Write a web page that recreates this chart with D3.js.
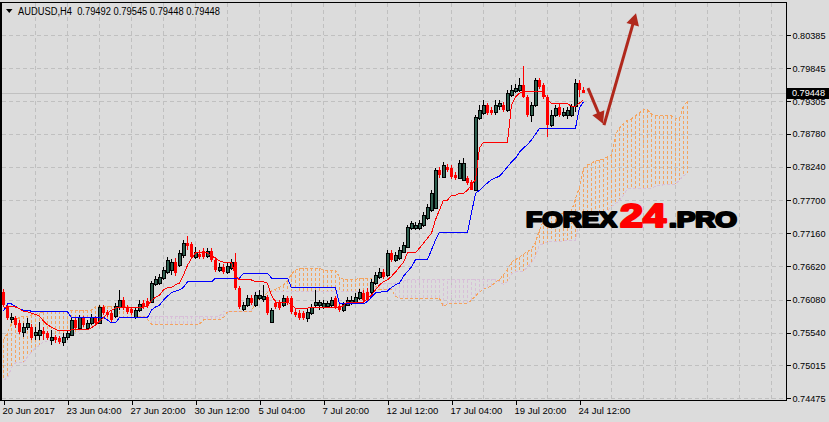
<!DOCTYPE html>
<html><head><meta charset="utf-8">
<script src="https://cdn.jsdelivr.net/npm/d3@7"></script>
<style>
html,body{margin:0;padding:0;background:#dcdcdc;}
svg{display:block;}
text{font-family:"Liberation Sans",Arial,sans-serif;}
</style></head><body>
<svg id="c" width="829" height="422"></svg>
<script>
// ---------- DATA ----------
const symbolLabel = "AUDUSD,H4";
const headerValues = ["0.79492","0.79545","0.79448","0.79448"];
const lastPrice = 0.79448;

const open = [
.7620,.7597,.7576,.7578,.7570,.7555,.7563,.7563,.7550,.7550,
.7557,.7554,.7542,.7547,.7546,.7539,.7547,.7550,.7575,.7562,
.7578,.7562,.7570,.7578,.7570,.7596,.7588,.7586,.7581,.7596,
.7607,.7596,.7593,.7579,.7591,.7602,.7605,.7604,.7633,.7635,
.7643,.7653,.7656,.7669,.7664,.7680,.7700,.7699,.7677,.7682,
.7687,.7679,.7687,.7673,.7656,.7661,.7653,.7659,.7669,.7627,
.7593,.7599,.7610,.7599,.7610,.7609,.7612,.7571,.7602,.7602,
.7599,.7610,.7610,.7588,.7586,.7586,.7578,.7586,.7599,.7599,
.7596,.7597,.7599,.7610,.7597,.7591,.7599,.7602,.7604,.7610,
.7619,.7620,.7620,.7635,.7645,.7653,.7648,.7684,.7673,.7675,
.7685,.7694,.7724,.7724,.7724,.7729,.7741,.7754,.7757,.7819,
.7808,.7824,.7822,.7811,.7806,.7803,.7806,.7799,.7787,.7903,
.7912,.7925,.7917,.7914,.7923,.7925,.7917,.7941,.7947,.7949,
.7957,.7938,.7908,.7925,.7965,.7957,.7938,.7892,.7908,.7922,
.7908,.7908,.7908,.7923,.7961,.79492];
const high = [
.7625,.7601,.7586,.7581,.7575,.7570,.7578,.7568,.7563,.7571,
.7563,.7557,.7559,.7550,.7549,.7554,.7559,.7578,.7578,.7583,
.7581,.7575,.7584,.7581,.7599,.7599,.7591,.7589,.7602,.7624,
.7612,.7599,.7596,.7594,.7607,.7607,.7610,.7638,.7646,.7650,
.7661,.7677,.7674,.7675,.7689,.7705,.7712,.7702,.7694,.7689,
.7692,.7692,.7692,.7677,.7668,.7666,.7669,.7674,.7684,.7630,
.7604,.7615,.7615,.7620,.7624,.7632,.7615,.7594,.7607,.7607,
.7615,.7614,.7614,.7593,.7591,.7589,.7593,.7601,.7624,.7607,
.7607,.7605,.7612,.7614,.7601,.7604,.7612,.7614,.7619,.7625,
.7624,.7627,.7641,.7653,.7659,.7658,.7689,.7689,.7685,.7694,
.7702,.7729,.7736,.7734,.7738,.7751,.7763,.7786,.7822,.7824,
.7832,.7829,.7827,.7816,.7835,.7838,.7809,.7803,.7908,.7925,
.7933,.7928,.7922,.7933,.7933,.7930,.7949,.7957,.7959,.7969,
.7988,.7941,.7930,.7969,.7969,.7961,.7941,.7917,.7925,.7927,
.7920,.7922,.7927,.7967,.7965,.79545];
const low = [
.7596,.7575,.7570,.7562,.7552,.7547,.7559,.7542,.7542,.7542,
.7542,.7542,.7534,.7537,.7536,.7532,.7542,.7549,.7559,.7560,
.7563,.7559,.7567,.7565,.7568,.7583,.7579,.7571,.7578,.7591,
.7591,.7584,.7583,.7576,.7588,.7593,.7594,.7602,.7630,.7632,
.7640,.7650,.7648,.7646,.7661,.7675,.7689,.7674,.7674,.7674,
.7674,.7675,.7669,.7653,.7653,.7650,.7650,.7656,.7624,.7593,
.7589,.7596,.7599,.7596,.7607,.7604,.7583,.7571,.7593,.7591,
.7596,.7599,.7584,.7579,.7575,.7575,.7571,.7583,.7596,.7591,
.7593,.7594,.7596,.7593,.7588,.7588,.7597,.7599,.7601,.7607,
.7605,.7604,.7617,.7632,.7641,.7641,.7645,.7669,.7669,.7673,
.7684,.7692,.7721,.7721,.7721,.7726,.7738,.7751,.7755,.7806,
.7806,.7816,.7804,.7803,.7804,.7803,.7795,.7786,.7786,.7900,
.7908,.7908,.7908,.7908,.7917,.7914,.7914,.7938,.7944,.7946,
.7936,.7905,.7897,.7922,.7951,.7934,.7873,.7889,.7905,.7905,
.7905,.7902,.7905,.7914,.7938,.79448];
const close = [
.7599,.7578,.7579,.7567,.7555,.7563,.7570,.7546,.7555,.7559,
.7552,.7546,.7547,.7542,.7539,.7547,.7554,.7575,.7562,.7579,
.7567,.7570,.7579,.7570,.7596,.7586,.7583,.7575,.7597,.7607,
.7594,.7588,.7586,.7591,.7601,.7596,.7597,.7635,.7641,.7645,
.7656,.7673,.7669,.7651,.7684,.7700,.7695,.7677,.7685,.7677,
.7677,.7687,.7673,.7656,.7661,.7653,.7663,.7669,.7627,.7596,
.7599,.7610,.7602,.7615,.7615,.7614,.7586,.7591,.7596,.7594,
.7610,.7602,.7588,.7583,.7578,.7578,.7588,.7596,.7604,.7604,
.7602,.7602,.7607,.7596,.7591,.7601,.7607,.7607,.7612,.7620,
.7607,.7607,.7637,.7648,.7653,.7645,.7684,.7673,.7680,.7689,
.7697,.7726,.7733,.7729,.7733,.7746,.7758,.7781,.7819,.7811,
.7827,.7819,.7808,.7806,.7830,.7830,.7798,.7787,.7905,.7917,
.7925,.7912,.7912,.7925,.7928,.7917,.7944,.7949,.7952,.7957,
.7938,.7908,.7925,.7965,.7954,.7938,.7892,.7908,.7920,.7908,
.7914,.7917,.7923,.7961,.7949,.79448];

const tenkan = [
.7594,.7597,.7597,.7596,.7593,.7589,.7588,.7586,.7584,.7581,
.7573,.7567,.7563,.7560,.7557,.7557,.7557,.7559,.7559,.7559,
.7559,.7559,.7562,.7567,.7573,.7579,.7586,.7591,.7594,.7596,
.7596,.7596,.7596,.7596,.7596,.7596,.7597,.7607,.7612,.7615,
.7624,.7627,.7628,.7632,.7635,.7648,.7664,.7675,.7684,.7684,
.7684,.7684,.7680,.7675,.7671,.7669,.7669,.7669,.7646,.7640,
.7640,.7640,.7640,.7637,.7637,.7637,.7635,.7615,.7604,.7604,
.7604,.7604,.7599,.7594,.7594,.7594,.7594,.7596,.7596,.7596,
.7596,.7596,.7596,.7596,.7594,.7599,.7604,.7604,.7604,.7604,
.7604,.7610,.7615,.7624,.7632,.7637,.7640,.7646,.7653,.7661,
.7669,.7684,.7684,.7684,.7692,.7700,.7708,.7716,.7738,.7754,
.7770,.7770,.7778,.7778,.7781,.7781,.7786,.7795,.7803,.7855,
.7864,.7864,.7864,.7864,.7864,.7864,.7864,.7925,.7938,.7944,
.7946,.7946,.7946,.7946,.7946,.7946,.7933,.7927,.7927,.7927,
.7927,.7927,.7922,.7922,.7928,.7933];
const kijun = [
.7589,.7601,.7601,.7597,.7593,.7591,.7591,.7589,.7588,.7588,
.7588,.7588,.7588,.7588,.7588,.7588,.7588,.7579,.7579,.7579,
.7579,.7579,.7579,.7579,.7579,.7579,.7575,.7570,.7570,.7579,
.7579,.7579,.7579,.7579,.7579,.7579,.7579,.7591,.7596,.7599,
.7607,.7614,.7619,.7622,.7624,.7628,.7637,.7637,.7637,.7637,
.7637,.7637,.7637,.7643,.7643,.7643,.7643,.7643,.7643,.7643,
.7651,.7651,.7651,.7651,.7651,.7651,.7651,.7643,.7643,.7643,
.7643,.7643,.7627,.7627,.7627,.7627,.7627,.7627,.7627,.7627,
.7627,.7627,.7627,.7627,.7601,.7601,.7601,.7601,.7601,.7601,
.7601,.7605,.7612,.7619,.7619,.7622,.7622,.7628,.7632,.7635,
.7646,.7654,.7661,.7673,.7673,.7673,.7673,.7689,.7705,.7718,
.7718,.7718,.7718,.7718,.7718,.7718,.7718,.7749,.7781,.7786,
.7792,.7798,.7803,.7806,.7809,.7816,.7824,.7832,.7838,.7848,
.7855,.7860,.7868,.7877,.7887,.7887,.7887,.7887,.7887,.7887,
.7887,.7887,.7887,.7887,.7920,.7930];
const senkouA = [
.7542,.7554,.7570,.7575,.7579,.7581,.7581,.7583,.7584,.7586,
.7588,.7589,.7589,.7589,.7589,.7589,.7589,.7591,.7591,.7591,
.7591,.7591,.7591,.7597,.7597,.7597,.7597,.7597,.7597,.7597,
.7597,.7597,.7593,.7581,.7581,.7581,.7576,.7568,.7568,.7568,
.7568,.7568,.7568,.7568,.7568,.7568,.7568,.7568,.7568,.7568,
.7575,.7575,.7575,.7575,.7575,.7579,.7588,.7588,.7588,.7588,
.7588,.7588,.7588,.7604,.7609,.7614,.7619,.7622,.7625,.7628,
.7632,.7638,.7650,.7656,.7659,.7659,.7659,.7659,.7659,.7659,
.7656,.7656,.7656,.7656,.7645,.7641,.7641,.7641,.7641,.7643,
.7643,.7643,.7643,.7630,.7624,.7624,.7624,.7624,.7614,.7610,
.7610,.7610,.7610,.7610,.7610,.7610,.7610,.7610,.7610,.7610,
.7597,.7601,.7602,.7602,.7602,.7602,.7602,.7607,.7614,.7620,
.7625,.7628,.7630,.7637,.7641,.7648,.7658,.7669,.7673,.7677,
.7682,.7686,.7690,.7702,.7721,.7736,.7744,.7744,.7747,.7747,
.7749,.7749,.7752,.7772,.7791,.7821,.7827,.7830,.7834,.7835,
.7837,.7840,.7843,.7877,.7887,.7895,.7900,.7902,.7907,.7912,
.7917,.7917,.7910,.7907,.7907,.7907,.7907,.7907,.7903,.7903,
.7923,.7931];
const senkouB = [
.7477,.7481,.7497,.7505,.7505,.7505,.7515,.7523,.7529,.7534,
.7539,.7541,.7542,.7544,.7546,.7547,.7552,.7554,.7555,.7557,
.7559,.7562,.7565,.7568,.7571,.7575,.7576,.7578,.7578,.7579,
.7579,.7579,.7579,.7581,.7581,.7581,.7581,.7581,.7581,.7581,
.7581,.7581,.7581,.7581,.7581,.7581,.7581,.7581,.7581,.7581,
.7581,.7581,.7581,.7581,.7581,.7589,.7589,.7589,.7589,.7589,
.7589,.7589,.7589,.7622,.7622,.7622,.7622,.7622,.7622,.7622,
.7622,.7622,.7622,.7622,.7622,.7622,.7622,.7622,.7622,.7622,
.7622,.7622,.7622,.7622,.7622,.7622,.7622,.7622,.7622,.7622,
.7622,.7622,.7622,.7627,.7630,.7635,.7635,.7635,.7635,.7638,
.7638,.7640,.7641,.7641,.7641,.7641,.7641,.7641,.7641,.7641,
.7641,.7641,.7641,.7641,.7641,.7641,.7641,.7641,.7641,.7641,
.7641,.7641,.7641,.7641,.7637,.7633,.7637,.7650,.7653,.7653,
.7655,.7661,.7668,.7679,.7697,.7699,.7702,.7702,.7702,.7702,
.7703,.7705,.7705,.7705,.7739,.7747,.7752,.7752,.7752,.7752,
.7752,.7752,.7760,.7764,.7770,.7778,.7788,.7788,.7788,.7788,
.7788,.7788,.7788,.7793,.7793,.7795,.7796,.7796,.7796,.7803,
.7809,.7814];

const priceTicks = [0.80385,0.79845,0.79305,0.78780,0.78240,0.77700,0.77160,0.76620,0.76080,0.75540,0.75015,0.74475];
const timeLabels = ["20 Jun 2017","23 Jun 04:00","27 Jun 20:00","30 Jun 12:00","5 Jul 04:00","7 Jul 20:00","12 Jul 12:00","17 Jul 04:00","19 Jul 20:00","24 Jul 12:00"];
const timeLabelBars = [0,16,32,48,64,80,96,112,128,144];
const gridBars = [8,16,24,32,40,48,56,64,72,80,88,96,104,112,120,128,136,144,152,160,168,176,184,192];
// forecast arrows (bar index, price)
const arrows = [
  {from:[146.25,0.7952], to:[150.0,0.7894]},
  {from:[150.25,0.7892], to:[158.25,0.8074]}
];

// ---------- CHART ----------
const svg = d3.select("#c");
const BG = "#dcdcdc";
svg.append("rect").attr("width",829).attr("height",422).attr("fill",BG);

const frame = {left:1, top:2.5, right:786.5, bottom:400.5};
const x = d3.scaleLinear().domain([0,145]).range([3,583]);
const y = d3.scaleLinear().domain([0.74475,0.80385]).range([398.3,35]);
const px = i => Math.round(x(i)) + 0.5;

const g = svg.append("g");

// grid
g.append("g").selectAll("line").data(priceTicks).join("line")
  .attr("x1",frame.left+1).attr("x2",frame.right)
  .attr("y1",d=>Math.round(y(d))+0.5).attr("y2",d=>Math.round(y(d))+0.5)
  .attr("stroke","#c0c0c0").attr("stroke-dasharray","4,3").attr("shape-rendering","crispEdges");
g.append("g").selectAll("line").data(gridBars).join("line")
  .attr("x1",d=>px(d)).attr("x2",d=>px(d))
  .attr("y1",frame.top).attr("y2",frame.bottom)
  .attr("stroke","#c0c0c0").attr("stroke-dasharray","4,3").attr("shape-rendering","crispEdges");

// last price line
g.append("line").attr("x1",frame.left).attr("x2",frame.right)
  .attr("y1",Math.round(y(lastPrice))+0.5).attr("y2",Math.round(y(lastPrice))+0.5)
  .attr("stroke","#c0c0c0").attr("shape-rendering","crispEdges");

// cloud hatch
const cloud = senkouA.map((a,i)=>({i,a,b:senkouB[i]}));
g.append("g").selectAll("line").data(cloud).join("line")
  .attr("x1",d=>px(d.i)).attr("x2",d=>px(d.i))
  .attr("y1",d=>Math.round(y(d.a))).attr("y2",d=>Math.round(y(d.b)))
  .attr("stroke",d=>d.a>=d.b?"#f4a460":"#d8bfd8")
  .attr("stroke-dasharray","3,2");

// span lines
const line = d3.line().x((d,i)=>px(i)).y(d=>y(d));
g.append("path").attr("d",line(senkouB)).attr("fill","none").attr("stroke","#d8bfd8")
  .attr("stroke-dasharray","3,2").attr("shape-rendering","crispEdges");
g.append("path").attr("d",line(senkouA)).attr("fill","none").attr("stroke","#f4a460")
  .attr("stroke-dasharray","3,2").attr("shape-rendering","crispEdges");

// candles
const candles = open.map((o,i)=>({i,o,h:high[i],l:low[i],c:close[i],bull:close[i]>=o}));
const cg = g.append("g").attr("shape-rendering","crispEdges");
cg.selectAll("line").data(candles).join("line")
  .attr("x1",d=>px(d.i)).attr("x2",d=>px(d.i))
  .attr("y1",d=>y(d.h)).attr("y2",d=>y(d.l))
  .attr("stroke",d=>d.bull?"#000":"#ff0000");
cg.selectAll("rect").data(candles).join("rect")
  .attr("x",d=>Math.round(x(d.i))-1)
  .attr("width",3)
  .attr("y",d=>Math.round(y(Math.max(d.o,d.c))))
  .attr("height",d=>Math.max(1,Math.round(y(Math.min(d.o,d.c)))-Math.round(y(Math.max(d.o,d.c)))))
  .attr("fill",d=>d.bull?"#2e5e4e":"#ff0000")
  .attr("stroke",d=>d.bull?"#000":"none").attr("stroke-width",1);

// tenkan / kijun
g.append("path").attr("d",line(kijun)).attr("fill","none").attr("stroke","#0000ff").attr("shape-rendering","crispEdges");
g.append("path").attr("d",line(tenkan)).attr("fill","none").attr("stroke","#ff0000").attr("shape-rendering","crispEdges");

// arrows
const ac = "#b0281c";
arrows.forEach(a=>{
  const x0=x(a.from[0]), y0=y(a.from[1]), x1=x(a.to[0]), y1=y(a.to[1]);
  const dx=x1-x0, dy=y1-y0, L=Math.hypot(dx,dy), ux=dx/L, uy=dy/L;
  const hl=12, hw=6.5;
  const bx=x1-ux*hl, by=y1-uy*hl;
  g.append("line").attr("x1",x0).attr("y1",y0).attr("x2",bx+ux*2).attr("y2",by+uy*2)
    .attr("stroke",ac).attr("stroke-width",3);
  g.append("path").attr("d",`M${x1},${y1}L${bx-uy*hw},${by+ux*hw}L${bx+uy*hw},${by-ux*hw}Z`).attr("fill",ac);
});

// watermark logo
const logo = g.append("g").attr("font-weight","bold").style("font-family","'DejaVu Sans', 'Liberation Sans', sans-serif")
  .attr("stroke-linejoin","round");
logo.append("text").attr("x",526).attr("y",226.5).attr("font-size",22).attr("fill","#000")
  .attr("stroke","#000").attr("stroke-width",2.2)
  .attr("textLength",91).attr("lengthAdjust","spacingAndGlyphs").text("FOREX");
logo.append("text").attr("x",620).attr("y",226.5).attr("font-size",33).attr("fill","#ff0000")
  .attr("stroke","#ff0000").attr("stroke-width",2.2)
  .attr("textLength",46).attr("lengthAdjust","spacingAndGlyphs").text("24");
logo.append("text").attr("x",669).attr("y",226.5).attr("font-size",22).attr("fill","#000")
  .attr("stroke","#000").attr("stroke-width",2.2)
  .attr("textLength",68).attr("lengthAdjust","spacingAndGlyphs").text(".PRO");

// frame
const fr = svg.append("g").attr("stroke","#000").attr("shape-rendering","crispEdges");
fr.append("line").attr("x1",1).attr("x2",1).attr("y1",frame.top).attr("y2",frame.bottom).attr("stroke-width",2);
fr.append("line").attr("x1",0).attr("x2",frame.right).attr("y1",frame.top).attr("y2",frame.top);
fr.append("line").attr("x1",frame.right).attr("x2",frame.right).attr("y1",frame.top).attr("y2",frame.bottom);
fr.append("line").attr("x1",0).attr("x2",frame.right).attr("y1",frame.bottom).attr("y2",frame.bottom);

// axes
const yAxis = d3.axisRight(y).tickValues(priceTicks).tickFormat(d3.format(".5f")).tickSize(4).tickPadding(2);
const ya = svg.append("g").attr("transform",`translate(${frame.right},0)`).call(yAxis);
const xAxis = d3.axisBottom(x).tickValues(timeLabelBars).tickFormat((d,i)=>timeLabels[i]).tickSize(4).tickPadding(3);
const xa = svg.append("g").attr("transform",`translate(0,${frame.bottom})`).call(xAxis);
[ya,xa].forEach(a=>{
  a.select(".domain").remove();
  a.selectAll("line").attr("stroke","#000").attr("shape-rendering","crispEdges");
  a.selectAll("text").attr("fill","#000").style("font-size","9.5px").style("font-family","'Liberation Sans',Arial,sans-serif");
});
xa.selectAll(".tick line").attr("transform","translate(0.5,0)");
xa.selectAll("text").attr("text-anchor","start").attr("x",-1);
ya.selectAll("text").attr("textLength",33).attr("lengthAdjust","spacingAndGlyphs");

// last price tag
const ly = y(lastPrice);
svg.append("rect").attr("x",787).attr("y",Math.round(ly)-5).attr("width",42).attr("height",11).attr("fill","#000");
svg.append("text").attr("x",792).attr("y",ly+3.3).attr("fill","#fff").style("font-size","9.5px")
  .attr("textLength",33).attr("lengthAdjust","spacingAndGlyphs")
  .text(d3.format(".5f")(lastPrice));

// header
svg.append("path").attr("d","M6,9L12.5,9L9.25,13Z").attr("fill","#000");
svg.append("text").attr("x",18).attr("y",15).style("font-size","10px").attr("fill","#000")
  .attr("xml:space","preserve").attr("textLength",202).attr("lengthAdjust","spacingAndGlyphs")
  .text(symbolLabel + "  " + headerValues.join(" "));
</script>
</body></html>
